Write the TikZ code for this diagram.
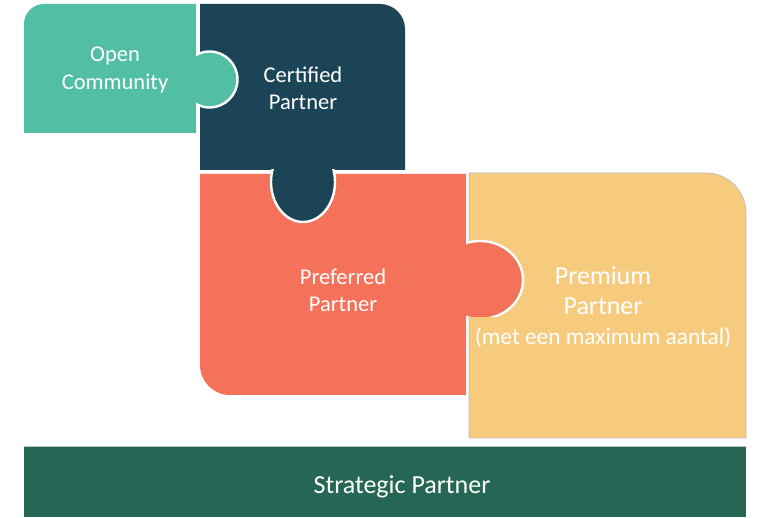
\documentclass[tikz,border=0pt]{standalone}
\usepackage{fontspec}
\setmainfont{Carlito}
\usetikzlibrary{positioning}
\definecolor{opengreen}{RGB}{82,191,165}
\definecolor{certblue}{RGB}{27,69,86}
\definecolor{prefcoral}{RGB}{244,114,89}
\definecolor{premyellow}{RGB}{246,203,126}
\definecolor{stratgreen}{RGB}{38,102,85}
\definecolor{edgegray}{RGB}{191,191,191}
\tikzset{
  piecetext/.style={text=white,align=center,inner sep=0pt,font=\fontsize{16.9}{20.3}\selectfont},
  bigtext/.style={text=white,align=center,inner sep=0pt,font=\fontsize{19.5}{22.5}\selectfont},
  knob/.style={draw=white,line width=1.8pt},
  rim/.style={draw=edgegray,line width=0.6pt}
}
\begin{document}
\begin{tikzpicture}[x=0.75pt,y=0.75pt]
  \useasboundingbox (0,0) rectangle (759,517);
  % puzzle pieces
  \filldraw[fill=premyellow,rim] (469,79) -- (469,344) -- (706,344)
    arc[start angle=90,end angle=0,radius=40] -- (746,79) -- cycle;
  \fill[prefcoral] (200,343) -- (466,343) -- (466,122) -- (230,122)
    arc[start angle=270,end angle=180,radius=30] -- cycle;
  \begin{scope}
    \clip (466,200) rectangle (540,360);
    \filldraw[fill=prefcoral,knob] (480,237) ellipse[x radius=43,y radius=39];
  \end{scope}
  \fill[certblue] (200,347) -- (200,513) -- (380,513)
    arc[start angle=90,end angle=0,radius=25] -- (405,347) -- cycle;
  \fill[opengreen] (24,384) -- (24,493)
    arc[start angle=180,end angle=90,radius=20] -- (196,513) -- (196,384) -- cycle;
  \begin{scope}
    \clip (196,400) rectangle (250,480);
    \filldraw[fill=opengreen,knob] (209.5,437.5) circle[radius=28];
  \end{scope}
  \begin{scope}
    \clip (260,280) rectangle (350,347);
    \filldraw[fill=certblue,knob] (303,335) ellipse[x radius=32,y radius=40];
  \end{scope}
  \fill[stratgreen] (24,0) rectangle (746,71);
  \draw[rim] (24,71) -- (746,71);

  \node[piecetext] (open) at (115,447) {Open\\Community};
  \node[piecetext] (certified) at (303,429) {Certified\\Partner};
  \node[piecetext] (preferred) at (343,227) {Preferred\\Partner};
  \node[bigtext] (premium) at (603,210) {Premium\\Partner\\{\fontsize{17.5}{21}\selectfont(met een maximum aantal)}};
  \node[bigtext] (strategic) at (402,30) {Strategic Partner};
\end{tikzpicture}
\end{document}
